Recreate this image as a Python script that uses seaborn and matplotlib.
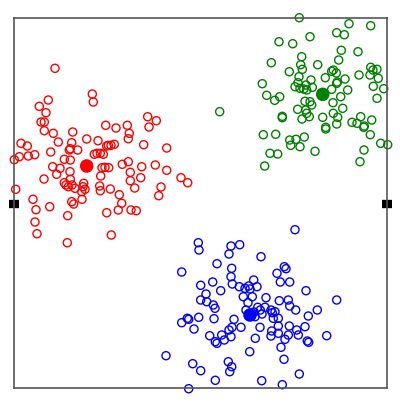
import pandas as pd
import seaborn as sns
import matplotlib.pyplot as plt

# points (x right, y downward like the image)
red_x = [55, 92.3, 93.3, 48.3, 39.3, 46, 41, 44.3, 44.3, 53.3, 58.3, 72.7, 86.7, 98,
         21, 27.3, 19.3, 28.3, 34.7, 14.3, 50.7, 70.3, 71.7, 77.7, 69.3,
         105.7, 116, 127.3, 129.3, 128.3, 147.7, 156.3, 149, 143.7, 166.7,
         106.7, 111, 114.3, 94.3, 97, 100.3, 64.3, 70.3, 52.7, 60, 56.7, 70, 44,
         102, 105, 108.7, 100.7, 122.3, 128.3, 130.3, 141.7, 155.3, 166.7, 140.7, 181, 187.7,
         64.3, 70.3, 68.3, 75, 83.7, 85, 83,
         99.7, 100.3, 110.3, 119.3, 130.3, 134.7, 161, 158.7,
         15.7, 33, 36, 49.7, 71.7, 73.7, 82, 121.7, 118.3, 131, 136.3,
         106.7, 67.7, 35, 37, 67.3, 111.3,
         72, 66, 81.7, 103.3, 108.3]
red_y = [68.3, 94, 102, 100, 106.3, 112.7, 122, 122, 130.7, 133.3, 142, 132, 139, 140.7,
         143.3, 146, 156.7, 156, 154.7, 159.7, 152, 148.7, 142.7, 150, 150,
         125.3, 128, 125.3, 133.3, 138.7, 116.7, 120.7, 127, 144.7, 148,
         146, 145.3, 144.3, 154.3, 153.3, 153.3, 159.3, 160, 166.7, 168.3, 174.3, 171.7, 179,
         167.7, 167.3, 167.7, 176, 164.3, 161.7, 172.3, 166.7, 165, 170.3, 177.7, 177.7, 182.7,
         182.7, 179.3, 186.7, 188.3, 183.3, 189.3, 186.7,
         186, 190.7, 189, 194.7, 180.7, 188, 187, 195.7,
         189.3, 199.3, 209.7, 206.7, 201.7, 204, 199.3, 203.3, 210, 210, 210.7,
         212.7, 215.7, 222, 233.7, 242.7, 235,
         185, 185, 191.7, 154.3, 145.3]

green_x = [299.3, 349, 370.7, 336.7, 344.3, 310, 279, 292.7, 341.3, 358, 301.7, 338.7,
           271.3, 317.7, 300.7, 302.3, 289.3, 331.7, 336.3, 325.3, 337.3, 345, 359,
           370.7, 373, 377, 370, 378.3, 299, 298, 311, 262.3, 295, 303.7, 306, 312.3,
           336.7, 347.7, 266.7, 274.7, 279.7, 373.3, 383.7, 377, 340.7, 331.7, 333,
           305, 311.7, 342.7, 297.7, 305.7, 309.3, 302, 282.3, 282.3, 322.7, 337.7,
           336.7, 325.7, 325.7, 352, 360.7, 371.7, 357, 363.7, 364.3, 370.3, 263.3,
           275.7, 289.7, 296, 304.3, 290.7, 300, 315, 270, 277.7, 364, 360, 380.7,
           387.7, 264.7, 219.7,
           300, 306.7, 333.3, 310, 306.7, 333.3]
green_y = [17.7, 23.7, 25.7, 32.7, 34.7, 36.7, 41.7, 43.7, 50.3, 51.7, 56.7, 60,
           62.7, 64.7, 64.7, 69.3, 71.7, 71.3, 73, 77.7, 82, 79, 75,
           67.3, 70, 69.3, 75, 78.3, 76.7, 82.7, 80, 83.7, 86.7, 89, 85, 87.3,
           83.3, 90, 95.3, 100.3, 96.7, 86.3, 88.7, 98.3, 96.7, 89.3, 102.7,
           101.3, 105, 108.3, 109.3, 110, 116.7, 119, 116.3, 117.7, 117.3, 117.3,
           124, 127.3, 129, 122.3, 116.7, 120, 123.3, 127.3, 126, 134.7, 134.7,
           134.3, 140, 139.3, 137, 145.3, 146.7, 151.3, 153.3, 154, 150, 161.7, 143.3,
           144.7, 166, 111.7,
           88.3, 90, 70, 101.7, 113.3, 113.3]

blue_x = [295, 198.3, 199, 231, 239.7, 229, 261, 217, 181.7, 231.7, 231, 232.3,
          284.3, 286, 277, 280.3, 289.7, 200.7, 212.7, 206, 220.7, 239.3, 245, 248.7,
          253.7, 257, 243.3, 252.3, 248, 200.7, 206.7, 213.3, 215, 266, 279.3, 288.3,
          289.7, 295.7, 306, 317.3, 336.7, 308.3, 305, 265, 257.7, 271, 272.3, 278.3,
          255, 260.3, 234, 241, 260, 271.7, 271, 278.3, 289.3, 296.7, 298.3, 307.3,
          308.7, 326.7, 181.7, 187.3, 188.7, 198.7, 214, 194, 209.7, 221.7, 217, 215.3,
          224.3, 231, 229, 232, 255.3, 249.7, 285, 281, 284, 166, 192.7, 200.7, 228.3,
          231.7, 229.7, 215.3, 261.7, 299.3, 282.3, 188.7, 254, 262, 246,
          250, 275, 273.3, 288.3, 278.3]
blue_y = [229.7, 242.7, 250, 246, 244.7, 254, 256.7, 263.7, 272, 268.3, 276.7, 284,
          266.7, 268.7, 273.3, 282, 282, 285.3, 282, 294, 290.7, 286.7, 288.3, 286,
          280, 286.7, 296.7, 296.7, 302.7, 300, 301.7, 305, 308.3, 297.7, 300.7, 300,
          306, 310, 290.7, 310, 300, 316, 326.7, 307.3, 307.3, 310, 312.7, 318.3,
          316.7, 310, 319.3, 327.3, 327.3, 331, 336, 326, 326, 330, 335, 341,
          342.3, 335.7, 322.7, 318.3, 319.3, 317.3, 318.7, 329, 335.7, 335, 343.3, 341.7,
          340, 336.7, 330, 327.3, 338.3, 351.7, 339.3, 347.3, 359.3, 355.7, 363.7, 370.7, 361.7,
          366.7, 371.7, 380.3, 380.7, 374, 384.7, 388.7, 312, 314, 310,
          289, 311.7, 318.3, 335, 333.3]

center_x = [86.7, 322.7, 250]
center_y = [166, 94.3, 315]
colors = ["#ff0000", "#008000", "#0000ff"]

sns.set_style("white")
fig = plt.figure(figsize=(4, 4.04), dpi=100)
ax = fig.add_axes([0.035, 0.0396, 0.9325, 0.9158])

groups = [(red_x, red_y), (green_x, green_y), (blue_x, blue_y)]
for (gx, gy), col in zip(groups, colors):
    df = pd.DataFrame({"x": gx, "y": gy})
    sns.scatterplot(data=df, x="x", y="y", ax=ax, s=34, facecolors="none",
                    edgecolor=col, linewidth=1, clip_on=False)

centers = pd.DataFrame({"x": center_x, "y": center_y, "c": ["r", "g", "b"]})
sns.scatterplot(data=centers, x="x", y="y", hue="c", palette=colors, ax=ax,
                s=95, linewidth=0, legend=False, clip_on=False)

ax.set_xlim(14, 387)
ax.set_ylim(388, 18)
ax.set_xticks([])
ax.set_yticks([204])
ax.set_yticklabels([])
ax.set_xlabel("")
ax.set_ylabel("")
ax.tick_params(axis="y", left=True, right=True, direction="inout",
               length=6.5, width=6, color="black")
for sp in ax.spines.values():
    sp.set_color("#555555")
    sp.set_linewidth(1.2)

fig.savefig("out.png", dpi=100)
